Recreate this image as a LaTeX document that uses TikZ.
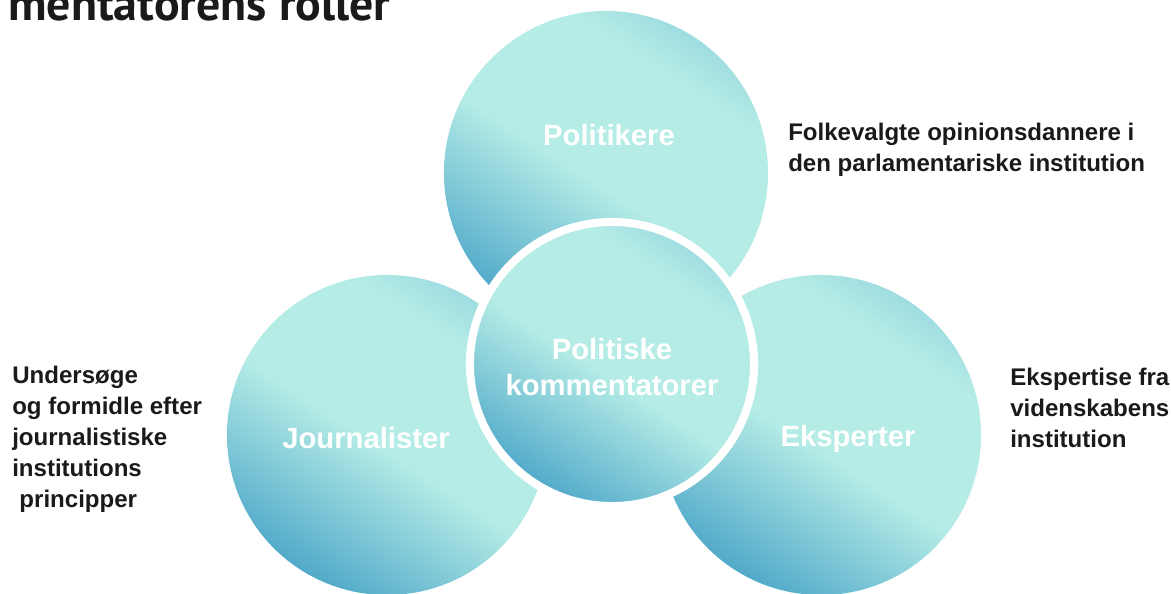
\documentclass[tikz,border=0pt]{standalone}
\usepackage{fontspec}
\setmainfont{Liberation Sans}
\newfontfamily\titlefont{PT Sans}
\usepackage{tikz}

\definecolor{roledark}{HTML}{52AACA}
\definecolor{rolelight}{HTML}{B5ECE6}
\definecolor{roleedge}{HTML}{9FDDE1}
\definecolor{textdark}{HTML}{1A1A1A}
\pgfdeclareverticalshading{roleshade}{100bp}{color(0bp)=(roledark); color(25bp)=(roledark); color(48bp)=(rolelight); color(68bp)=(rolelight); color(75bp)=(roleedge); color(100bp)=(roleedge)}

\begin{document}
\begin{tikzpicture}[x=0.025cm, y=-0.025cm,
  role/.style={circle, shade, shading=roleshade, shading angle=-33, minimum size=8cm, inner sep=0pt},
  rolename/.style={text=white, font=\bfseries\fontsize{20.8}{25}\selectfont, align=center},
  roletext/.style={text=textdark, font=\bfseries\fontsize{17.1}{22}\selectfont, align=left, anchor=west, inner sep=0pt}]
\useasboundingbox (0,0) rectangle (1171,593);

% Title, cut off at the top
\node[anchor=base west, inner sep=0pt, text=textdark, font=\titlefont\bfseries\fontsize{34}{40}\selectfont] (title) at (8,20) {mentatorens roller};

% Outer circles
\node[role, minimum size=8.1cm] (pol) at (606,173) {};
\node[role] (jou) at (387,435) {};
\node[role] (eks) at (821,435) {};
\node[rolename] (polname) at (609,135) {Politikere};
\node[rolename] (jouname) at (366,438) {Journalister};
\node[rolename] (eksname) at (848,439) {Eksperter};

% Center circle
\node[role, minimum size=7.1cm, draw=white, line width=0.2cm] (kom) at (612,364) {};
\node[rolename] (komname) at (612,367) {Politiske\\kommentatorer};

% Descriptions
\node[roletext] (poltext) at (788,150) {Folkevalgte opinionsdannere i\\den parlamentariske institution};
\node[roletext] (joutext) at (12,439) {Undersøge\\og formidle efter\\journalistiske\\institutions\\\hspace{0.3em}principper};
\node[roletext] (ekstext) at (1010,408) {Ekspertise fra\\videnskabens\\institution};
\end{tikzpicture}
\end{document}
